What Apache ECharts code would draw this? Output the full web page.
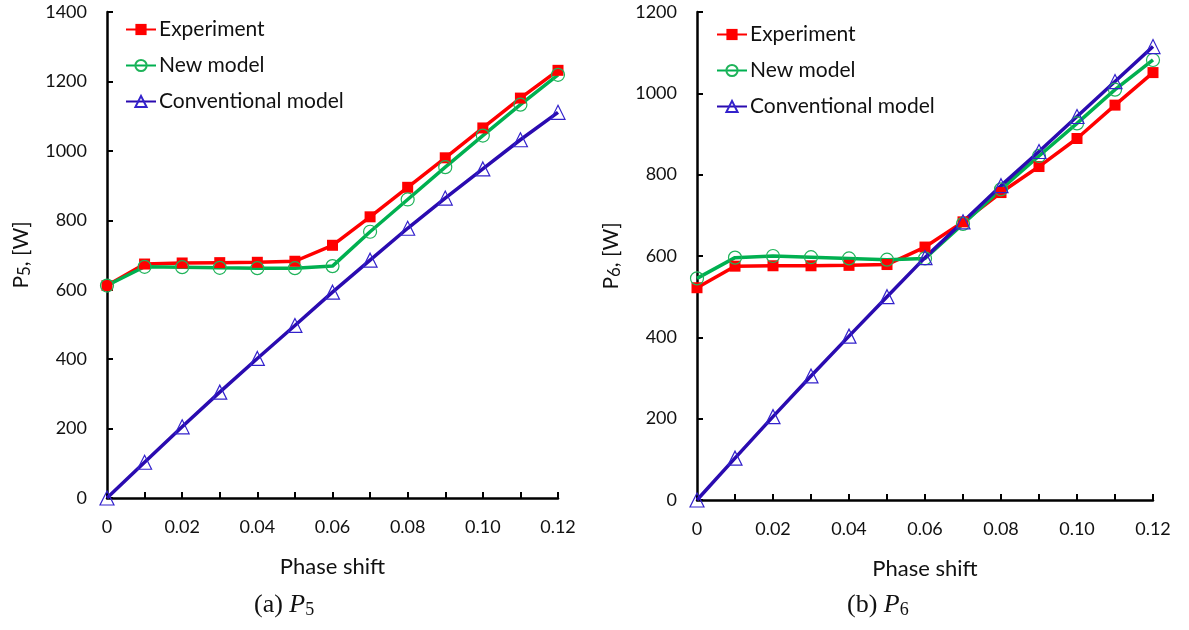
<!DOCTYPE html>
<html>
<head>
<meta charset="utf-8">
<title>Power vs phase shift</title>
<script src="https://cdn.jsdelivr.net/npm/echarts@6/dist/echarts.min.js"></script>
<style>
  html, body { margin: 0; padding: 0; background: #fff; }
  #chart { width: 1189px; height: 630px; }
</style>
</head>
<body>
<div id="chart"></div>
<script>
// Phase shift categories along both x axes
const phaseShift = ['0', '0.01', '0.02', '0.03', '0.04', '0.05', '0.06',
                    '0.07', '0.08', '0.09', '0.10', '0.11', '0.12'];

// Panel (a): P5 [W]
const p5Experiment   = [612, 674, 677, 678, 679, 682, 728, 810, 895, 980, 1066, 1152, 1232];
const p5NewModel     = [612, 666, 665, 663, 662, 662, 668, 767, 860, 953, 1044, 1133, 1219];
const p5Conventional = [0, 103, 205, 305, 402, 497, 593, 685, 777, 864, 948, 1032, 1111];

// Panel (b): P6 [W]
const p6Experiment   = [522, 575, 576, 576, 577, 579, 622, 684, 756, 820, 889, 971, 1051];
const p6NewModel     = [545, 596, 600, 597, 594, 591, 594, 679, 764, 846, 926, 1009, 1082];
const p6Conventional = [0, 103, 205, 305, 403, 500, 596, 684, 773, 857, 943, 1029, 1115];

const seriesNames = ['Experiment', 'New model', 'Conventional model'];

const RED = '#ff0000', GREEN = '#00b050', BLUE = '#2a0bb0';
const FONT = 'Lato';
const TEXT = '#111';

function xAxis(gridIndex) {
  return {
    type: 'category', gridIndex, data: phaseShift, boundaryGap: false,
    name: 'Phase shift', nameLocation: 'middle', nameGap: 58,
    nameTextStyle: { fontFamily: FONT, fontSize: 22, color: TEXT },
    axisLine: { lineStyle: { color: '#000', width: 2.5 } },
    axisTick: { inside: true, length: 6, interval: 0, lineStyle: { color: '#000', width: 2 } },
    axisLabel: { interval: 1, margin: 20, fontFamily: FONT, fontSize: 18, color: TEXT },
    splitLine: { show: false }
  };
}

function yAxis(gridIndex, max, sub) {
  return {
    type: 'value', gridIndex, min: 0, max, interval: 200,
    name: '{p|P}{s|' + sub + '}{p|, [W]}', nameLocation: 'middle', nameGap: 74,
    nameTextStyle: {
      rich: {
        p: { fontFamily: FONT, fontSize: 21, color: TEXT },
        s: { fontFamily: FONT, fontSize: 17, color: TEXT, verticalAlign: 'bottom', padding: [6, 0, 0, 0] }
      }
    },
    axisLine: { show: true, lineStyle: { color: '#000', width: 2.5 } },
    axisTick: { show: true, inside: true, length: 6, lineStyle: { color: '#000', width: 2 } },
    axisLabel: { margin: 20, fontFamily: FONT, fontSize: 18, color: TEXT, formatter: v => String(v) },
    splitLine: { show: false }
  };
}

function makeSeries(idx, exp, nm, conv) {
  return [
    {
      name: seriesNames[0], type: 'line', xAxisIndex: idx, yAxisIndex: idx, data: exp,
      symbol: 'rect', symbolSize: 11,
      lineStyle: { color: RED, width: 3.5 },
      itemStyle: { color: RED }
    },
    {
      name: seriesNames[1], type: 'line', xAxisIndex: idx, yAxisIndex: idx, data: nm,
      symbol: 'circle', symbolSize: 13,
      lineStyle: { color: GREEN, width: 3.5 },
      itemStyle: { color: 'rgba(255,255,255,0)', borderColor: '#1fb35a', borderWidth: 1.2 }
    },
    {
      name: seriesNames[2], type: 'line', xAxisIndex: idx, yAxisIndex: idx, data: conv,
      symbol: 'triangle', symbolSize: 14,
      lineStyle: { color: BLUE, width: 3.5 },
      itemStyle: { color: 'rgba(255,255,255,0)', borderColor: '#3322cc', borderWidth: 1.2 }
    }
  ];
}

function legend(left, top) {
  return {
    orient: 'vertical', left, top, data: seriesNames, padding: 0,
    itemWidth: 30, itemHeight: 14, itemGap: 15,
    textStyle: { fontFamily: FONT, fontSize: 21, lineHeight: 21, color: TEXT, padding: [0, 0, 0, -2] }
  };
}

// Sub-figure captions below each panel
function caption(cx, label, sub) {
  return {
    type: 'text', left: cx - 38, top: 592,
    style: {
      text: '{n|(' + label + ') }{i|P}{s|' + sub + '}',
      rich: {
        n: { fontFamily: 'Liberation Serif', fontSize: 26, fill: TEXT },
        i: { fontFamily: 'Liberation Serif', fontStyle: 'italic', fontSize: 26, fill: TEXT },
        s: { fontFamily: 'Liberation Serif', fontSize: 18, fill: TEXT, verticalAlign: 'bottom', padding: [10, 0, 0, 0] }
      }
    }
  };
}

const chart = echarts.init(document.getElementById('chart'), null, { renderer: 'canvas' });
chart.setOption({
  backgroundColor: '#fff',
  animation: false,
  grid: [
    { left: 107, top: 12, width: 451, height: 486 },
    { left: 697, top: 12, width: 456, height: 488 }
  ],
  xAxis: [xAxis(0), xAxis(1)],
  yAxis: [yAxis(0, 1400, '5'), yAxis(1, 1200, '6')],
  legend: [legend(125, 19), legend(716, 24)],
  series: [
    ...makeSeries(0, p5Experiment, p5NewModel, p5Conventional),
    ...makeSeries(1, p6Experiment, p6NewModel, p6Conventional)
  ],
  graphic: [caption(292, 'a', '5'), caption(885, 'b', '6')]
});
</script>
</body>
</html>
